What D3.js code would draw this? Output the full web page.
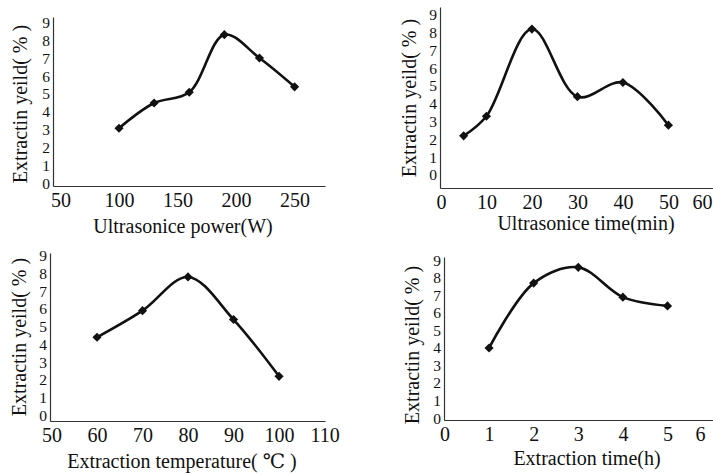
<!DOCTYPE html>
<html>
<head>
<meta charset="utf-8">
<script src="https://cdn.jsdelivr.net/npm/d3@7"></script>
<style>
  body { margin: 0; background: #fff; }
  svg text { fill: #111; }
</style>
</head>
<body>
<svg class="chart" width="713" height="475"></svg>
<script>
// Data
const Y_TICKS = [0, 1, 2, 3, 4, 5, 6, 7, 8, 9];
const Y_LABEL = "Extractin yeild( % )";

const POWER_X = [100, 130, 160, 190, 220, 250];
const POWER_Y = [3.1, 4.5, 5.1, 8.3, 7.0, 5.4];
const POWER_TICKS = [50, 100, 150, 200, 250];

const UTIME_X = [5, 10, 20, 30, 40, 50];
const UTIME_Y = [2.2, 3.3, 8.2, 4.4, 5.2, 2.8];
const UTIME_TICKS = [0, 10, 20, 30, 40, 50, 60];

const TEMP_X = [60, 70, 80, 90, 100];
const TEMP_Y = [4.4, 5.9, 7.8, 5.4, 2.2];
const TEMP_TICKS = [50, 60, 70, 80, 90, 100, 110];

const ETIME_X = [1, 2, 3, 4, 5];
const ETIME_Y = [4.0, 7.7, 8.6, 6.9, 6.4];
const ETIME_TICKS = [0, 1, 2, 3, 4, 5, 6];

// Panel layouts (pixel boxes), scales are fitted per panel
const PANELS = [
  { xs: POWER_X, ys: POWER_Y, xTicks: POWER_TICKS, xLabel: "Ultrasonice power(W)",
    box: { left: 53, right: 325, top: 17, bottom: 186 },
    xDomain: [43.6, 276], yDomain: [-0.11, 9.28],
    xLabelPos: [183, 233], yLabelPos: [27, 104] },
  { xs: UTIME_X, ys: UTIME_Y, xTicks: UTIME_TICKS, xLabel: "Ultrasonice time(min)",
    box: { left: 440, right: 713, top: 7, bottom: 188 },
    xDomain: [-0.2, 59.8], yDomain: [-0.73, 9.44],
    xLabelPos: [586, 230], yLabelPos: [416, 98] },
  { xs: TEMP_X, ys: TEMP_Y, xTicks: TEMP_TICKS, xLabel: "Extraction temperature( \u2103 )",
    box: { left: 50, right: 325, top: 253, bottom: 421 },
    xDomain: [49.67, 110.1], yDomain: [-0.32, 9.15],
    xLabelPos: [182, 468], yLabelPos: [26, 337] },
  { xs: ETIME_X, ys: ETIME_Y, xTicks: ETIME_TICKS, xLabel: "Extraction time(h)",
    box: { left: 444, right: 713, top: 257, bottom: 420 },
    xDomain: [-0.01, 6.02], yDomain: [-0.11, 9.19],
    xLabelPos: [587, 465], yLabelPos: [419, 345] },
];

const CHART = d3.select(".chart");
const FONT = "'Liberation Serif', Tinos, 'Times New Roman', 'DejaVu Serif', serif";

function draw_panel(p) {
  const X_fxn = d3.scaleLinear().domain(p.xDomain).range([p.box.left, p.box.right]);
  const Y_fxn = d3.scaleLinear().domain(p.yDomain).range([p.box.bottom, p.box.top]);
  const g = CHART.append("g");

  const xAxis = g.append("g")
    .attr("transform", `translate(0, ${p.box.bottom})`)
    .call(d3.axisBottom(X_fxn).tickValues(p.xTicks).tickSize(0).tickSizeOuter(0).tickPadding(7)
      .tickFormat(d3.format("d")));
  const yAxis = g.append("g")
    .attr("transform", `translate(${p.box.left}, 0)`)
    .call(d3.axisLeft(Y_fxn).tickValues(Y_TICKS).tickSize(0).tickSizeOuter(0).tickPadding(3)
      .tickFormat(d3.format("d")));

  [xAxis, yAxis].forEach(a => {
    a.attr("font-family", FONT);
    a.select(".domain").attr("stroke", "#333").attr("stroke-width", 1.2);
    a.selectAll("text").style("font-family", FONT).attr("fill", "#111");
  });
  xAxis.selectAll("text").style("font-size", "20px");
  // y ticks sit 18px apart, keep them small enough not to collide
  yAxis.selectAll("text").style("font-size", "15.5px");
  // keep the last x label inside the window
  xAxis.selectAll(".tick text").filter(d => X_fxn(d) > 700).attr("dx", -12);

  const pts = p.xs.map((x, i) => [x, p.ys[i]]);
  const line_fxn = d3.line()
    .x(d => X_fxn(d[0]))
    .y(d => Y_fxn(d[1]))
    .curve(d3.curveCatmullRom.alpha(0.5));
  g.append("path").datum(pts)
    .attr("d", line_fxn)
    .attr("fill", "none")
    .attr("stroke", "#111")
    .attr("stroke-width", 2.6);

  g.selectAll(".marker").data(pts).enter().append("path")
    .attr("class", "marker")
    .attr("d", d3.symbol().type(d3.symbolSquare).size(42))
    .attr("transform", d => `translate(${X_fxn(d[0])}, ${Y_fxn(d[1])}) rotate(45)`)
    .attr("fill", "#111");

  g.append("text")
    .attr("x", p.xLabelPos[0]).attr("y", p.xLabelPos[1])
    .style("text-anchor", "middle")
    .style("font-family", FONT)
    .style("font-size", "20px")
    .text(p.xLabel);
  g.append("text")
    .attr("transform", `translate(${p.yLabelPos[0]}, ${p.yLabelPos[1]}) rotate(-90)`)
    .style("text-anchor", "middle")
    .style("font-family", FONT)
    .style("font-size", "20px")
    .text(Y_LABEL);
}

PANELS.forEach(draw_panel);
</script>
</body>
</html>
